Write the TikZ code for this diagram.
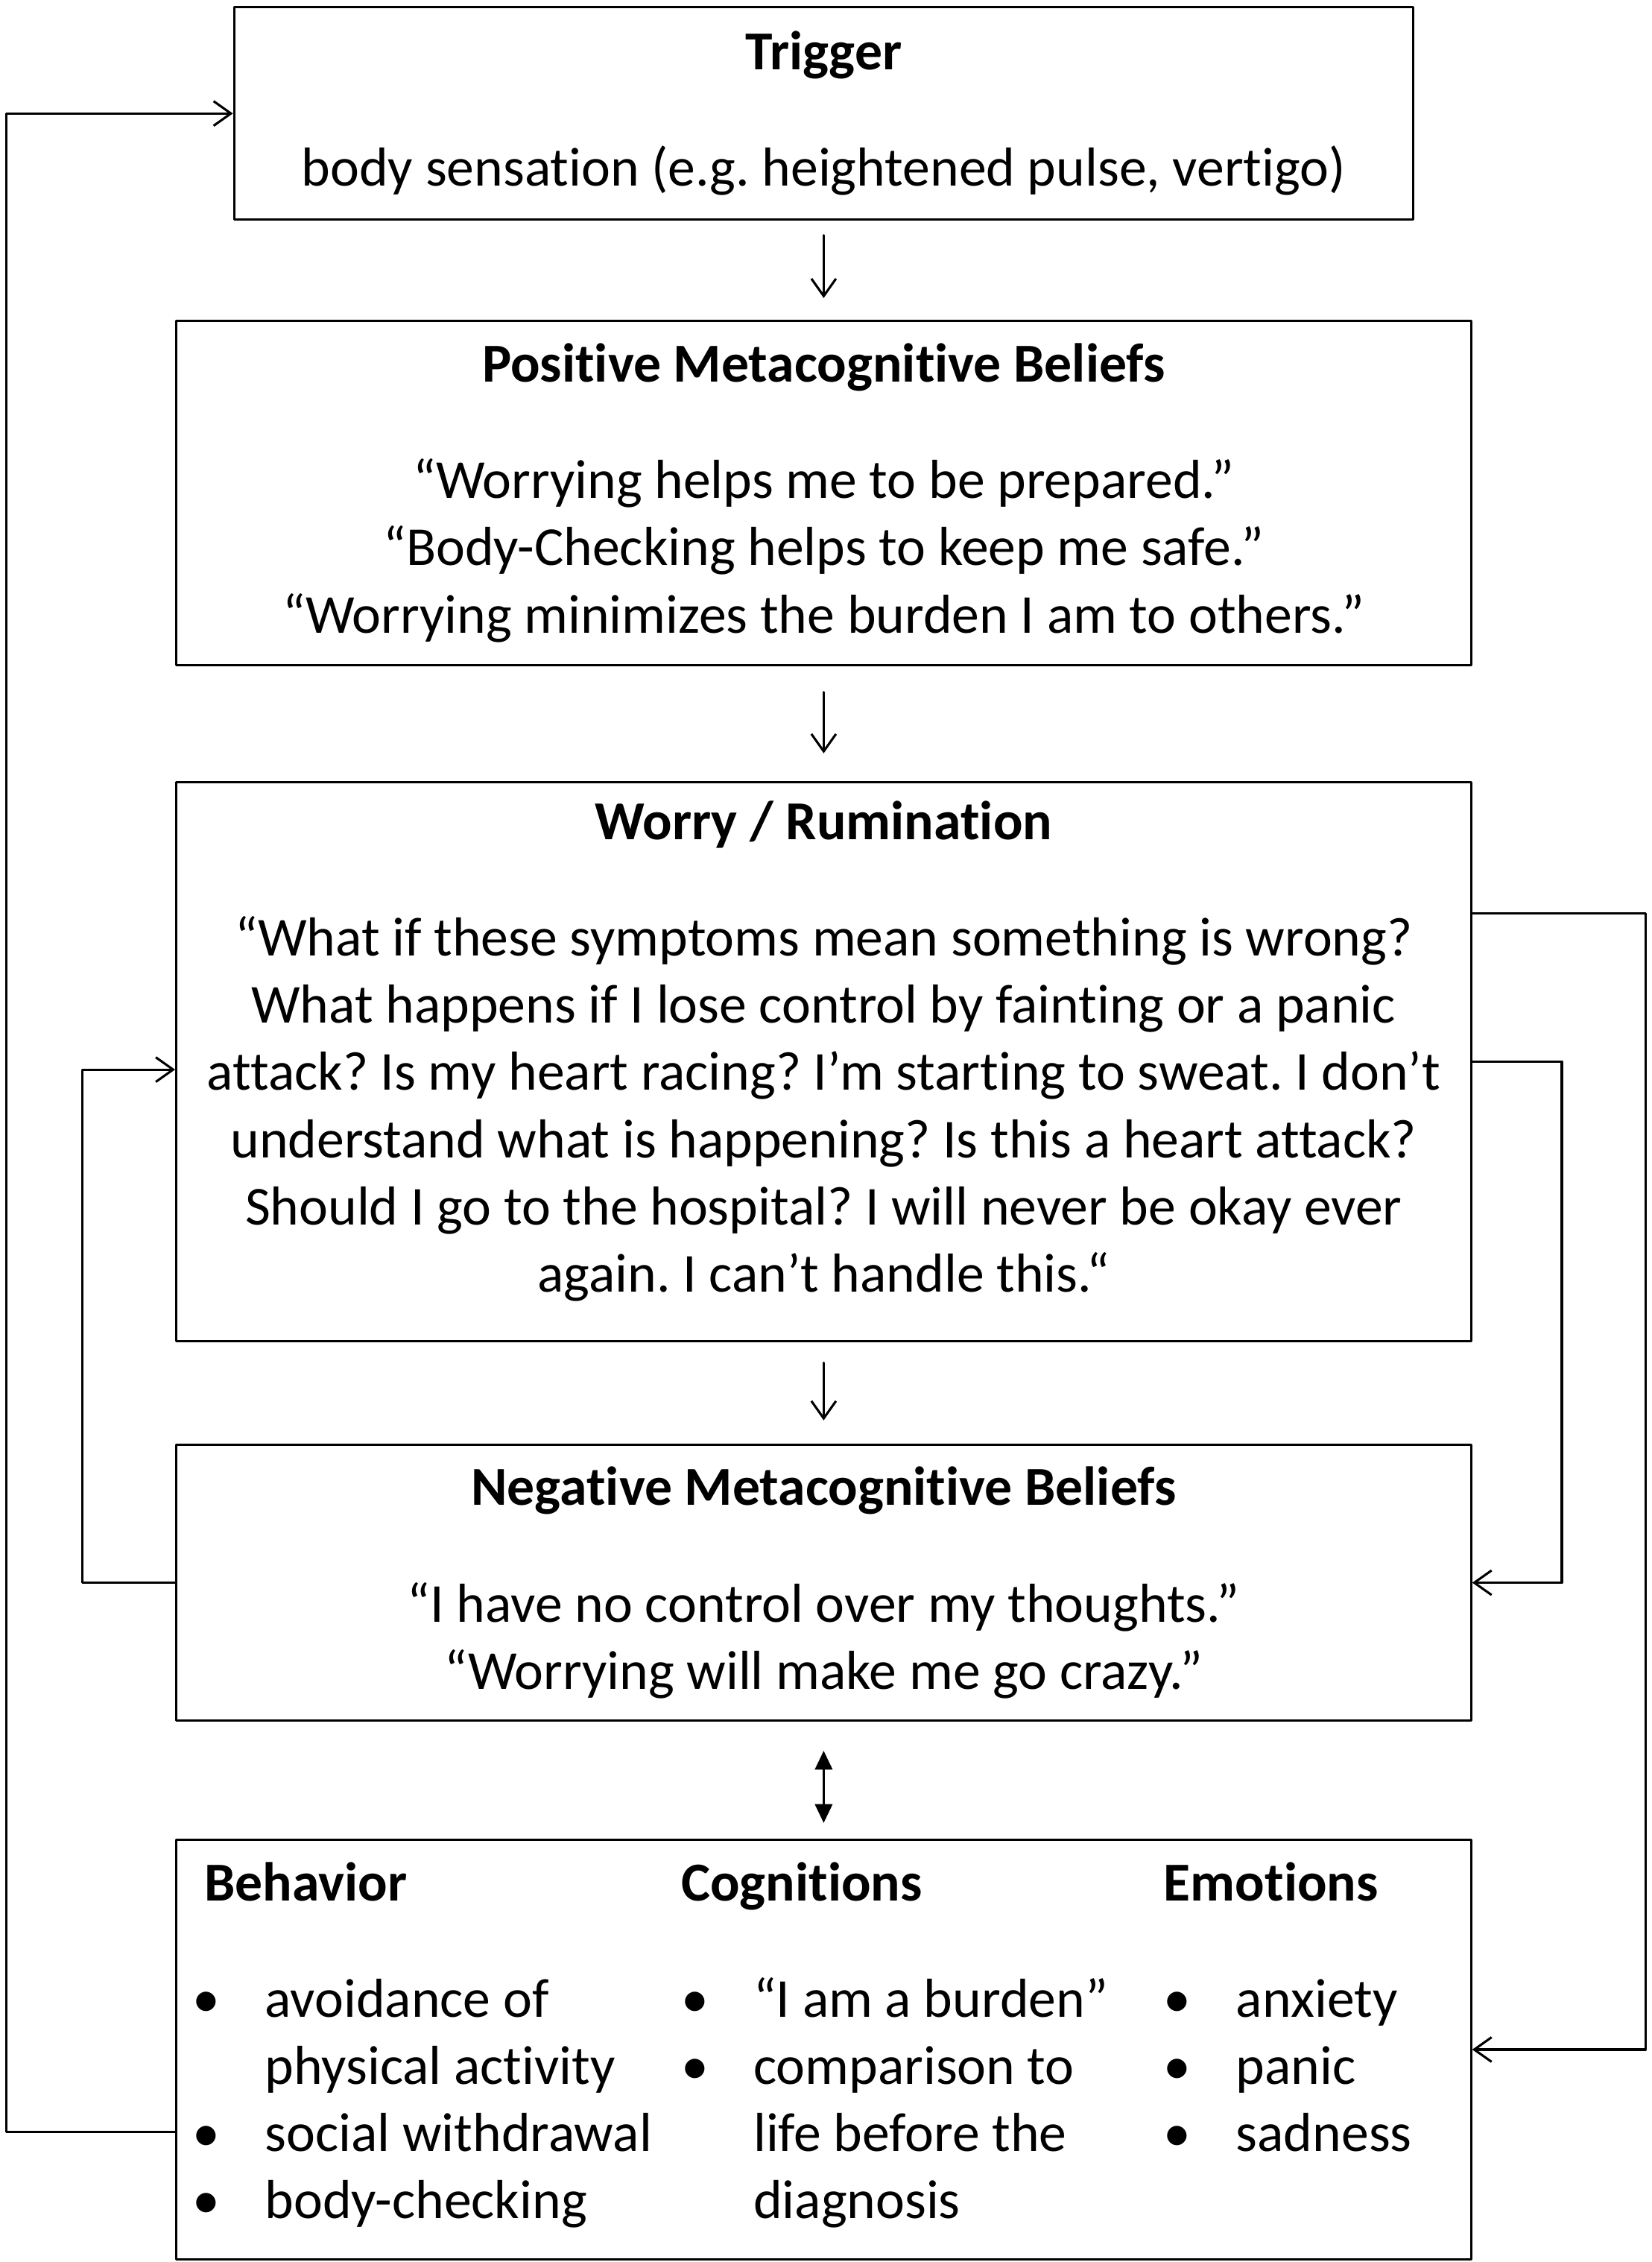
\documentclass[tikz,border=0pt]{standalone}
\usepackage{fontspec}
\setmainfont{Carlito}[Ligatures=CommonOff]
\usetikzlibrary{arrows.meta}
\frenchspacing
\newcommand{\bul}[1]{\makebox[25pt][l]{•}#1}
\newcommand{\ind}[1]{\hspace*{25pt}#1}
\begin{document}
\begin{tikzpicture}[x=0.5pt, y=-0.5pt, line join=round, line cap=round,
  font=\fontsize{19}{23.25}\selectfont,
  box/.style={draw, line width=0.8pt, align=center, inner sep=0pt, minimum width=448pt},
  flow/.style={-{Straight Barb[length=6pt,width=8.5pt]}, line width=0.8pt},
  twoway/.style={{Triangle[length=6.5pt,width=6pt]}-{Triangle[length=6.5pt,width=6pt]}, line width=0.8pt},
  col/.style={anchor=north west, align=left, inner sep=0pt}]
\def\gap{17pt} % Abstand Titel
\useasboundingbox (0,0) rectangle (1143,1565);
\node[box, minimum width=408pt, minimum height=73.5pt] (trigger) at (570,78.5)
  {\textbf{Trigger}\\[\gap]body sensation (e.g. heightened pulse, vertigo)};
\node[box, minimum height=119pt] (positive) at (570,341)
  {\textbf{Positive Metacognitive Beliefs}\\[\gap]
   “Worrying helps me to be prepared.”\\
   “Body-Checking helps to keep me safe.”\\
   “Worrying minimizes the burden I am to others.”};
\node[box, minimum height=193.5pt] (worry) at (570,734.5)
  {\textbf{Worry / Rumination}\\[\gap]
   “What if these symptoms mean something is wrong?\\
   What happens if I lose control by fainting or a panic\\
   attack? Is my heart racing? I’m starting to sweat. I don’t\\
   understand what is happening? Is this a heart attack?\\
   Should I go to the hospital? I will never be okay ever\\
   again. I can’t handle this.“\rule[-10.5pt]{0pt}{10.5pt}};
\node[box, minimum height=95.5pt] (negative) at (570,1095)
  {\textbf{Negative Metacognitive Beliefs}\\[\gap]
   “I have no control over my thoughts.”\\
   “Worrying will make me go crazy.”};
\node[box, minimum height=145pt] (outcome) at (570,1418) {};
% Spalten
\node[col] (behavior) at (133,1288) {\hspace*{4pt}\textbf{Behavior}\\[\gap]
  \bul{avoidance of}\\ \ind{physical activity}\\ \bul{social withdrawal}\\ \bul{body-checking}};
\node[col] (cognitions) at (471,1288) {\textbf{Cognitions}\\[\gap]
  \bul{“I am a burden”}\\ \bul{comparison to}\\ \ind{life before the}\\ \ind{diagnosis}};
\node[col] (emotions) at (805,1288) {\textbf{Emotions}\\[\gap]
  \bul{anxiety}\\ \bul{panic}\\ \bul{sadness}};
% Pfeile
\draw[flow, shorten <=5pt, shorten >=7.5pt] (trigger) -- (positive);
\draw[flow, shorten <=9pt, shorten >=9.5pt] (positive) -- (worry);
\draw[flow, shorten <=7pt, shorten >=8pt] (worry) -- (negative);
\draw[twoway, shorten <=10pt, shorten >=5.5pt] (negative) -- (outcome);
% Schleifen
\draw[flow] ([yshift=-28.5pt]outcome.west) -- ++(-117,0) |- (trigger.west);
\draw[flow] (negative.west) -- ++(-64,0) |- ([yshift=-2.75pt]worry.west);
\draw[flow] ([yshift=51.25pt]worry.east) -- ++(120,0) |- (outcome.east);
\draw[flow] (worry.east) -- ++(62,0) |- (negative.east);
\end{tikzpicture}
\end{document}
